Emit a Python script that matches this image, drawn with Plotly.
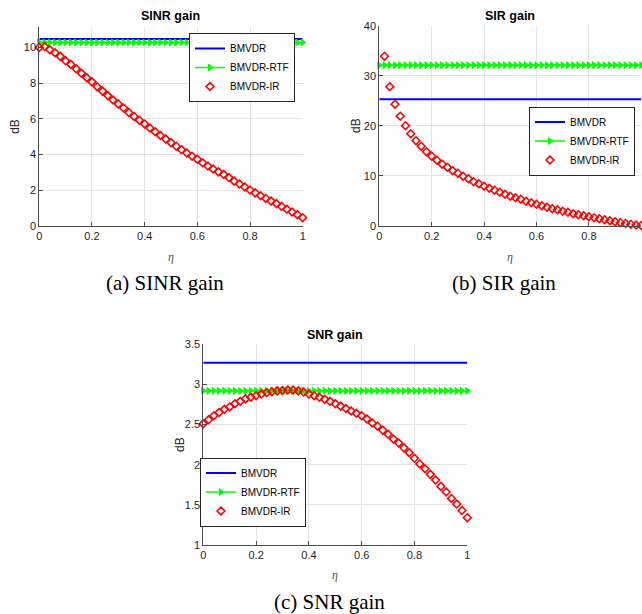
import plotly.graph_objects as go

# ---------------- data ----------------
ETA = [0.00, 0.02, 0.04, 0.06, 0.08, 0.10, 0.12, 0.14, 0.16, 0.18,
       0.20, 0.22, 0.24, 0.26, 0.28, 0.30, 0.32, 0.34, 0.36, 0.38,
       0.40, 0.42, 0.44, 0.46, 0.48, 0.50, 0.52, 0.54, 0.56, 0.58,
       0.60, 0.62, 0.64, 0.66, 0.68, 0.70, 0.72, 0.74, 0.76, 0.78,
       0.80, 0.82, 0.84, 0.86, 0.88, 0.90, 0.92, 0.94, 0.96, 0.98, 1.00]

SINR_BMVDR = 10.47
SINR_RTF = 10.28
SINR_IR = [10.00, 10.05, 9.87, 9.70, 9.50, 9.25, 9.05, 8.80, 8.55, 8.30,
           8.07, 7.80, 7.55, 7.30, 7.05, 6.83, 6.60, 6.35, 6.13, 5.92,
           5.71, 5.48, 5.27, 5.06, 4.86, 4.66, 4.46, 4.26, 4.08, 3.90,
           3.73, 3.53, 3.35, 3.18, 3.02, 2.88, 2.70, 2.50, 2.34, 2.17,
           2.00, 1.84, 1.68, 1.53, 1.38, 1.24, 1.08, 0.92, 0.77, 0.62, 0.45]

SIR_BMVDR = 25.3
SIR_RTF = 32.1
SIR_IR = [None, 33.9, 27.8, 24.3, 21.9, 20.0, 18.4, 17.0, 15.9, 14.8,
          13.9, 13.1, 12.3, 11.7, 11.0, 10.5, 9.9, 9.4, 8.8, 8.4,
          7.9, 7.5, 7.1, 6.7, 6.3, 5.9, 5.6, 5.3, 4.9, 4.6,
          4.3, 4.0, 3.7, 3.4, 3.2, 2.9, 2.7, 2.4, 2.2, 2.0,
          1.8, 1.6, 1.4, 1.2, 1.0, 0.8, 0.6, 0.45, 0.3, 0.15, 0.05]

SNR_BMVDR = 3.27
SNR_RTF = 2.92
SNR_IR = [2.51, 2.56, 2.61, 2.65, 2.69, 2.72, 2.76, 2.79, 2.82, 2.84,
          2.86, 2.88, 2.90, 2.91, 2.92, 2.925, 2.93, 2.93, 2.92, 2.905,
          2.88, 2.86, 2.84, 2.815, 2.79, 2.76, 2.73, 2.70, 2.67, 2.64,
          2.61, 2.57, 2.52, 2.48, 2.43, 2.38, 2.32, 2.27, 2.21, 2.15,
          2.08, 2.01, 1.95, 1.88, 1.81, 1.73, 1.66, 1.58, 1.51, 1.43, 1.34]

SERIES_NAMES = ["BMVDR", "BMVDR-RTF", "BMVDR-IR"]
X_TICKS = [0, 0.2, 0.4, 0.6, 0.8, 1]
X_TICK_TEXT = ["0", "0.2", "0.4", "0.6", "0.8", "1"]
SINR_TICKS = [0, 2, 4, 6, 8, 10]
SIR_TICKS = [0, 10, 20, 30, 40]
SNR_TICKS = [1, 1.5, 2, 2.5, 3, 3.5]
SNR_TICK_TEXT = ["1", "1.5", "2", "2.5", "3", "3.5"]
TITLES = ["SINR gain", "SIR gain", "SNR gain"]
CAPTIONS = ["(a) SINR gain", "(b) SIR gain", "(c) SNR gain"]

# ---------------- layout geometry (pixels) ----------------
W, H = 642, 614


def fx(px):
    return px / W


def fy(py):
    return 1 - py / H


panels = [
    dict(box=(39.3, 302.7, 27.3, 225.7), yrange=[0, 11.13], yticks=SINR_TICKS,
         yticktext=[str(t) for t in SINR_TICKS],
         b=SINR_BMVDR, r=SINR_RTF, ir=SINR_IR, legend_pos=(295, 33, "top"),
         title_y=16, eta_y=257, caption=(164.5, 283)),
    dict(box=(379.3, 641.3, 25.7, 225.7), yrange=[0, 40], yticks=SIR_TICKS,
         yticktext=[str(t) for t in SIR_TICKS],
         b=SIR_BMVDR, r=SIR_RTF, ir=SIR_IR, legend_pos=(635, 141, "middle"),
         title_y=16, eta_y=257, caption=(504, 283)),
    dict(box=(203.3, 467.3, 344.3, 545), yrange=[1, 3.5], yticks=SNR_TICKS,
         yticktext=SNR_TICK_TEXT,
         b=SNR_BMVDR, r=SNR_RTF, ir=SNR_IR, legend_pos=(306, 492, "middle"),
         title_y=335, eta_y=575, caption=(330, 602)),
]

AXCOL = "#4d4d4d"
TICKFONT = dict(size=11, family="Liberation Sans, Arial, sans-serif", color="#262626")

fig = go.Figure()
layout = dict(
    width=W, height=H, margin=dict(l=0, r=0, t=0, b=0),
    paper_bgcolor="white", plot_bgcolor="white", showlegend=True,
    annotations=[],
)

for i, p in enumerate(panels):
    n = "" if i == 0 else str(i + 1)
    xa, ya = "x" + n, "y" + n
    leg = "legend" + n
    x0, x1, y0, y1 = p["box"]

    fig.add_trace(go.Scatter(
        x=ETA, y=[p["b"]] * len(ETA), mode="lines", name=SERIES_NAMES[0],
        line=dict(color="#0000ff", width=2), xaxis=xa, yaxis=ya, legend=leg,
        cliponaxis=False))
    fig.add_trace(go.Scatter(
        x=ETA, y=[p["r"]] * len(ETA), mode="lines+markers", name=SERIES_NAMES[1],
        line=dict(color="#00ff00", width=1.5),
        marker=dict(symbol="triangle-right", size=6, color="#00ff00",
                    line=dict(color="#00ff00", width=1)),
        xaxis=xa, yaxis=ya, legend=leg, cliponaxis=False))
    fig.add_trace(go.Scatter(
        x=ETA, y=p["ir"], mode="markers", name=SERIES_NAMES[2],
        marker=dict(symbol="diamond-open", size=6, color="#ff0000",
                    line=dict(color="#ff0000", width=1.6)),
        xaxis=xa, yaxis=ya, legend=leg, cliponaxis=False))

    common = dict(showline=True, linecolor=AXCOL, linewidth=1, ticks="inside",
                  ticklen=4, tickcolor=AXCOL, showgrid=True, gridcolor="#e3e3e3",
                  gridwidth=1, zeroline=False, tickfont=TICKFONT, mirror=False,
                  automargin=False)
    layout["xaxis" + n] = dict(common, domain=[fx(x0), fx(x1)], range=[0, 1],
                               tickvals=X_TICKS, ticktext=X_TICK_TEXT,
                               anchor=ya)
    layout["yaxis" + n] = dict(common, domain=[fy(y1), fy(y0)], range=p["yrange"],
                               tickvals=p["yticks"], ticktext=p["yticktext"],
                               anchor=xa)
    lx, ly, lya = p["legend_pos"]
    layout[leg] = dict(x=fx(lx), y=fy(ly), xref="paper", yref="paper",
                       xanchor="right", yanchor=lya, bgcolor="white",
                       bordercolor="#262626", borderwidth=1,
                       font=dict(size=10, family="Liberation Sans, Arial, sans-serif",
                                 color="#000000"),
                       itemwidth=30, tracegroupgap=0)

    cx = (x0 + x1) / 2
    layout["annotations"] += [
        dict(text="<b>" + TITLES[i] + "</b>", x=fx(cx), y=fy(p["title_y"]),
             xref="paper", yref="paper", showarrow=False, xanchor="center",
             yanchor="middle",
             font=dict(size=12.5, family="Liberation Sans, Arial, sans-serif",
                       color="#000000")),
        dict(text="dB", x=fx(x0 - 24), y=fy((y0 + y1) / 2), xref="paper",
             yref="paper", showarrow=False, textangle=-90, xanchor="center",
             yanchor="middle",
             font=dict(size=12, family="Liberation Sans, Arial, sans-serif",
                       color="#262626")),
        dict(text="<i>η</i>", x=fx(cx), y=fy(p["eta_y"]), xref="paper",
             yref="paper", showarrow=False, xanchor="center", yanchor="middle",
             font=dict(size=12, family="Liberation Serif, Times New Roman, serif",
                       color="#555555")),
        dict(text=CAPTIONS[i], x=fx(p["caption"][0]), y=fy(p["caption"][1]),
             xref="paper", yref="paper", showarrow=False, xanchor="center",
             yanchor="middle",
             font=dict(size=21, family="Liberation Serif, Times New Roman, serif",
                       color="#000000")),
    ]

fig.update_layout(**layout)
fig.write_html(
    "out.html",
    config={"displayModeBar": False},
    post_script="document.body.style.margin='0';document.body.style.overflow='hidden';",
)
